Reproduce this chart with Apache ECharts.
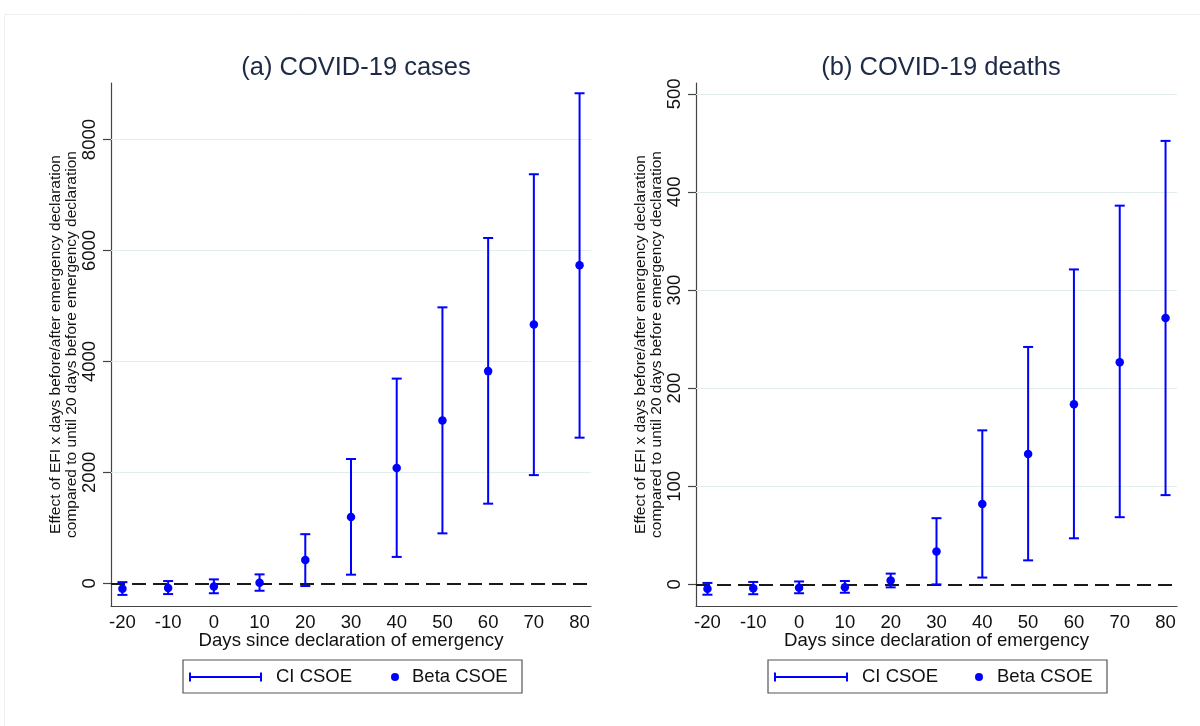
<!DOCTYPE html>
<html>
<head>
<meta charset="utf-8">
<script src="https://cdn.jsdelivr.net/npm/echarts@6/dist/echarts.min.js"></script>
<style>
html,body{margin:0;padding:0;background:#fff;}
#chart{width:1200px;height:726px;}
</style>
</head>
<body>
<div id="chart"></div>
<script>
// ---- data ----
const days = [-20, -10, 0, 10, 20, 30, 40, 50, 60, 70, 80];
const casesBeta = [-100, -85, -60, 10, 420, 1195, 2080, 2935, 3825, 4665, 5735];
const casesLo   = [-210, -195, -180, -135, -50, 155, 475, 900, 1435, 1950, 2625];
const casesHi   = [20, 40, 70, 160, 885, 2240, 3690, 4975, 6225, 7375, 8835];
const deathsBeta = [-4.5, -4, -3.5, -3, 4, 33.5, 82, 133, 183.5, 226.5, 271.5];
const deathsLo   = [-10.5, -10, -9, -8.5, -3, 0, 7, 24.5, 47, 68.5, 91];
const deathsHi   = [1.5, 2.5, 3, 3.5, 11, 67.5, 157, 242, 321, 386, 452];
const casesTicks = [0, 2000, 4000, 6000, 8000];
const deathsTicks = [0, 100, 200, 300, 400, 500];
const dayTicks = [-20, -10, 0, 10, 20, 30, 40, 50, 60, 70, 80];
const panelTitles = ['(a) COVID-19 cases', '(b) COVID-19 deaths'];
const yName = 'Effect of EFI x days before/after emergency declaration\ncompared to until 20 days before emergency declaration';
const xName = 'Days since declaration of emergency';
const legendNames = ['CI CSOE', 'Beta CSOE'];

// ---- styling ----
const FONT = '"Liberation Sans", Arial, sans-serif';
const BLUE = '#0000ff';
const TXT = '#111111';
const AXIS = '#444444';
const GRID = '#e2eded';

const chart = echarts.init(document.getElementById('chart'));

function ciRender(params, api) {
  const x = api.value(0), lo = api.value(1), hi = api.value(2);
  const a = api.coord([x, lo]), b = api.coord([x, hi]);
  const w = 5;
  const st = {stroke: BLUE, lineWidth: 2};
  return {type: 'group', children: [
    {type: 'line', shape: {x1: a[0], y1: a[1], x2: b[0], y2: b[1]}, style: st},
    {type: 'line', shape: {x1: a[0] - w, y1: a[1], x2: a[0] + w, y2: a[1]}, style: st},
    {type: 'line', shape: {x1: b[0] - w, y1: b[1], x2: b[0] + w, y2: b[1]}, style: st}
  ]};
}

function xAxisCfg(gi) {
  return {
    type: 'value', gridIndex: gi, min: -22.5, max: 82.5,
    axisLine: {onZero: false, lineStyle: {color: AXIS, width: 1.2}},
    axisTick: {show: false},
    splitLine: {show: false},
    axisLabel: {customValues: dayTicks, color: TXT, fontFamily: FONT, fontSize: 18.5, margin: 7,
      formatter: v => String(v)},
    name: xName, nameLocation: 'middle', nameGap: 25, nameMoveOverlap: false,
    nameTextStyle: {color: TXT, fontFamily: FONT, fontSize: 18.6}
  };
}
function yAxisCfg(gi, min, max, ticks) {
  return {
    type: 'value', gridIndex: gi, min: min, max: max,
    axisLine: {show: true, onZero: false, lineStyle: {color: AXIS, width: 1.2}},
    axisTick: {show: true, customValues: ticks, length: 8, lineStyle: {color: AXIS, width: 1.2}},
    splitLine: {show: false},
    axisLabel: {customValues: ticks, rotate: 90, color: TXT, fontFamily: FONT, fontSize: 18.5, margin: 12,
      formatter: v => String(v)},
    name: yName, nameLocation: 'middle', nameRotate: 90, nameGap: 31, nameMoveOverlap: false,
    nameTextStyle: {color: TXT, fontFamily: FONT, fontSize: 15.5, lineHeight: 16}
  };
}
function gridMarks(ticks) {
  const data = ticks.filter(v => v !== 0).map(v => ({yAxis: v, lineStyle: {color: GRID, width: 1.2, type: 'solid'}}));
  data.push({yAxis: 0, lineStyle: {color: '#1a1a1a', width: 2, type: [14, 7]}});
  return {silent: true, symbol: 'none', label: {show: false}, data: data, z: 1};
}

function panelSeries(gi, beta, lo, hi, ticks) {
  return [
    {type: 'custom', name: legendNames[0], xAxisIndex: gi, yAxisIndex: gi,
     renderItem: ciRender, encode: {x: 0, y: [1, 2]},
     data: days.map((d, i) => [d, lo[i], hi[i]]), z: 3,
     markLine: gridMarks(ticks)},
    {type: 'scatter', name: legendNames[1], xAxisIndex: gi, yAxisIndex: gi,
     symbol: 'circle', symbolSize: 8.5, itemStyle: {color: BLUE, opacity: 1},
     data: days.map((d, i) => [d, beta[i]]), z: 4}
  ];
}

function legendGraphic(x0, w, lineX1, lineX2, txt1X, dotX, txt2X) {
  const cy = 677;
  const st = {stroke: BLUE, lineWidth: 2};
  return [
    {type: 'rect', shape: {x: x0, y: 660, width: w, height: 33}, style: {fill: '#fff', stroke: '#555', lineWidth: 1.2}},
    {type: 'line', shape: {x1: lineX1, y1: cy, x2: lineX2, y2: cy}, style: st},
    {type: 'line', shape: {x1: lineX1, y1: cy - 4.5, x2: lineX1, y2: cy + 4.5}, style: st},
    {type: 'line', shape: {x1: lineX2, y1: cy - 4.5, x2: lineX2, y2: cy + 4.5}, style: st},
    {type: 'text', x: txt1X, y: cy, style: {text: legendNames[0], font: '18.5px ' + FONT, fill: TXT, textVerticalAlign: 'middle', textAlign: 'left'}},
    {type: 'circle', shape: {cx: dotX, cy: cy, r: 4}, style: {fill: BLUE}},
    {type: 'text', x: txt2X, y: cy, style: {text: legendNames[1], font: '18.5px ' + FONT, fill: TXT, textVerticalAlign: 'middle', textAlign: 'left'}}
  ];
}

const option = {
  backgroundColor: '#ffffff',
  animation: false,
  title: [
    {text: panelTitles[0], left: 351, top: 50, textAlign: 'center',
     textStyle: {color: '#1c2a46', fontFamily: FONT, fontSize: 25.5, fontWeight: 'normal'}},
    {text: panelTitles[1], left: 936, top: 50, textAlign: 'center',
     textStyle: {color: '#1c2a46', fontFamily: FONT, fontSize: 25.5, fontWeight: 'normal'}}
  ],
  grid: [
    {left: 111, top: 83, width: 480, height: 523},
    {left: 696, top: 83, width: 481, height: 523}
  ],
  xAxis: [xAxisCfg(0), xAxisCfg(1)],
  yAxis: [yAxisCfg(0, -410, 9020, casesTicks), yAxisCfg(1, -22, 511, deathsTicks)],
  series: [].concat(
    panelSeries(0, casesBeta, casesLo, casesHi, casesTicks),
    panelSeries(1, deathsBeta, deathsLo, deathsHi, deathsTicks)
  ),
  graphic: [
    {type: 'rect', shape: {x: 4.5, y: 14.5, width: 1200, height: 720}, style: {fill: 'none', stroke: '#eeeeee', lineWidth: 1}, silent: true, z: -10}
  ].concat(
    legendGraphic(183, 339, 190, 261, 276, 395, 412),
    legendGraphic(768, 339, 775, 847, 862, 979, 997)
  )
};
chart.setOption(option);
</script>
</body>
</html>
